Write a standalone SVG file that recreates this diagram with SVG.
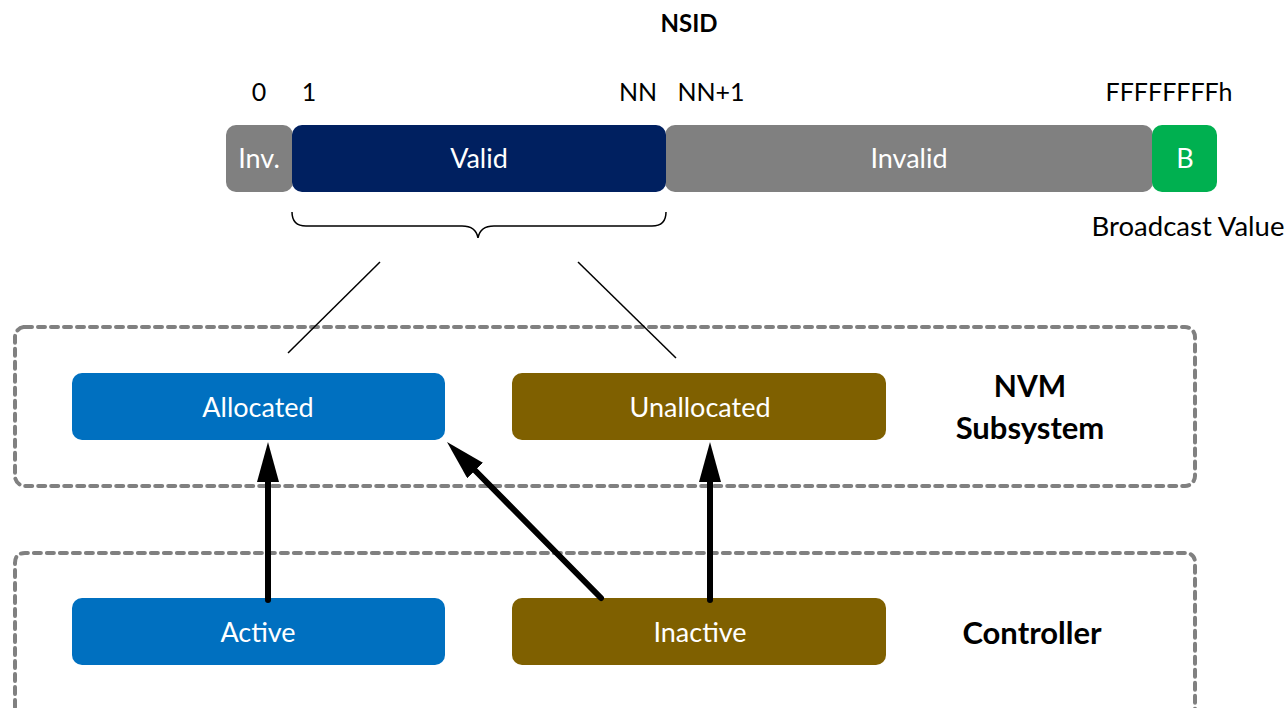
<svg xmlns="http://www.w3.org/2000/svg" width="1288" height="708" viewBox="0 0 1288 708">
<style>
text{font-family:Lato,"Open Sans","Liberation Sans",sans-serif;}
.w{fill:#fff;font-size:27px;text-anchor:middle;}
.k{fill:#000;font-size:25px;text-anchor:middle;}
.b{fill:#000;font-weight:bold;text-anchor:middle;}
.dash{fill:none;stroke:#808080;stroke-width:4;stroke-dasharray:7 6;stroke-linecap:round;}
.thin{stroke:#000;stroke-width:1.5;fill:none;}
.arr{stroke:#000;stroke-width:6;stroke-linecap:round;fill:none;marker-end:url(#ah);}
</style>
<defs>
<marker id="ah" viewBox="0 -11 40 22" refX="0" refY="0" markerWidth="40" markerHeight="22" markerUnits="userSpaceOnUse" orient="auto">
<path d="M0,-11 L40,0 L0,11 Z" fill="#000"/>
</marker>
</defs>
<rect width="1288" height="708" fill="#fff"/>
<text class="b" x="689" y="32" font-size="24">NSID</text>
<g id="labels">
<text class="k" x="259" y="101">0</text>
<text class="k" x="309" y="101">1</text>
<text class="k" x="638" y="101">NN</text>
<text class="k" x="711" y="101">NN+1</text>
<text class="k" x="1169" y="101">FFFFFFFFh</text>
<text class="k" x="1188" y="236" style="font-size:27.5px">Broadcast Value</text>
</g>
<g id="range">
<g id="inv"><rect x="226" y="125" width="67" height="67" rx="10" fill="#808080"/><text class="w" x="259" y="168">Inv.</text></g>
<g id="invalid"><rect x="665" y="125" width="488" height="67" rx="10" fill="#808080"/><text class="w" x="909" y="168">Invalid</text></g>
<g id="valid"><rect x="292" y="125" width="374" height="67" rx="10" fill="#002060"/><text class="w" x="479" y="168">Valid</text></g>
<g id="bcast"><rect x="1152" y="125" width="65" height="67" rx="10" fill="#00B050"/><text class="w" x="1185" y="168">B</text></g>
</g>
<g id="containers">
<rect class="dash" x="15" y="327" width="1180" height="159" rx="10"/>
<path class="dash" d="M15,720 L15,563 Q15,553 25,553 L1185,553 Q1195,553 1195,563 L1195,720"/>
</g>
<g id="allocated"><rect x="72" y="373" width="373" height="67" rx="10" fill="#0070C0"/><text class="w" x="258" y="417">Allocated</text></g>
<g id="unallocated"><rect x="512" y="373" width="374" height="67" rx="10" fill="#7F6000"/><text class="w" x="700" y="417">Unallocated</text></g>
<g id="active"><rect x="72" y="598" width="373" height="67" rx="10" fill="#0070C0"/><text class="w" x="258" y="642">Active</text></g>
<g id="inactive"><rect x="512" y="598" width="374" height="67" rx="10" fill="#7F6000"/><text class="w" x="700" y="642">Inactive</text></g>
<g id="nvm-label"><text class="b" x="1030" y="397" font-size="30">NVM</text><text class="b" x="1030" y="439" font-size="31">Subsystem</text></g>
<g id="ctrl-label"><text class="b" x="1032" y="644" font-size="31">Controller</text></g>
<g id="connectors">
<path class="thin" d="M292,212 Q292,226 306,226 L462,226 Q476,226 478,238 Q480,226 494,226 L652,226 Q666,226 666,212"/>
<line class="thin" x1="380" y1="262" x2="288" y2="353"/>
<line class="thin" x1="578" y1="262" x2="676" y2="358"/>
<line class="arr" x1="268" y1="600" x2="268" y2="482"/>
<line class="arr" x1="601" y1="598" x2="475.1" y2="470.5"/>
<line class="arr" x1="710" y1="600" x2="710" y2="482"/>
</g>
</svg>
